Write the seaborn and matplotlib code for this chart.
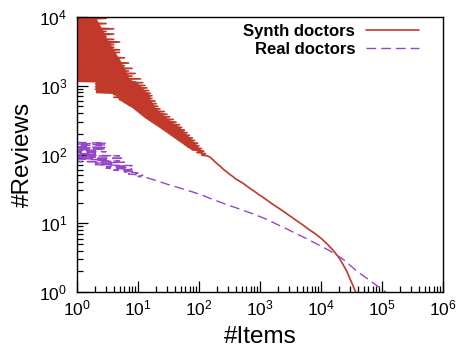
import numpy as np
import pandas as pd
import matplotlib
matplotlib.use("Agg")
import matplotlib.pyplot as plt
from matplotlib.ticker import LogLocator, NullFormatter
import seaborn as sns

# Synthetic doctors: (number of reviews, number of items with that many reviews)
synth_reviews = [
    10000, 9570, 9160, 8760, 8380, 8020, 7680, 7350, 7030, 6730,
    6440, 6160, 5900, 5640, 5400, 5170, 4940, 4730, 4530, 4330,
    4140, 3970, 3800, 3630, 3480, 3330, 3180, 3050, 2910, 2790,
    2670, 2550, 2440, 2340, 2240, 2140, 2050, 1960, 1880, 1790,
    1720, 1640, 1570, 1510, 1440, 1380, 1320, 1260, 1210,
    1160, 1110, 1060, 1010, 970, 930, 890, 850, 810, 780,
    745, 715, 680, 655, 625, 600, 572, 548, 524, 502,
    480, 460, 440, 421, 403, 385, 369, 353, 338, 323,
    309, 296, 283, 271, 259, 248, 237, 227, 217, 208,
    199, 190, 182, 174, 167, 160, 153, 146, 140, 134,
    128, 122, 117, 112, 107, 103, 98,
    95, 92, 89, 86, 83, 80, 77, 74, 71, 68,
    65, 62, 59, 56, 53, 50, 47, 44, 41, 38,
    35, 32, 30, 28, 26, 24, 22, 20, 19, 18,
    17, 16, 15, 14, 13, 12, 11, 10, 9, 8,
    7, 6, 5, 4, 3, 2, 1,
]
synth_items = [
    1, 3, 1, 2, 1, 3, 1, 2, 1, 4,
    1, 3, 1, 4, 2, 3, 1, 4, 1, 5,
    2, 4, 1, 4, 2, 5, 1, 5, 2, 4,
    1, 6, 2, 5, 1, 7, 2, 6, 1, 8,
    2, 7, 1, 9, 3, 8, 1, 11, 2,
    1, 12, 2, 13, 2, 14, 2, 15, 3, 16,
    4, 17, 4, 17, 5, 19, 6, 20, 7, 21,
    9, 23, 10, 27, 12, 30, 13, 33, 15, 38,
    17, 42, 19, 48, 22, 52, 26, 58, 30, 64,
    35, 70, 40, 78, 45, 85, 52, 95, 58, 100,
    66, 110, 78, 120, 92, 128, 110,
    140, 150, 158, 162, 172, 178, 186, 198, 205, 222,
    232, 246, 262, 285, 305, 335, 368, 400, 460, 530,
    600, 690, 770, 860, 960, 1110, 1270, 1480, 1600, 1760,
    1950, 2150, 2400, 2680, 3000, 3420, 3950, 4600, 5400, 6500,
    8100, 10100, 12600, 16000, 20500, 26500, 37000,
]

# Densely overplotted core of the synthetic curve: item range covered at each review level
synth_core_reviews = [10000, 7000, 5000, 3300, 2400, 1800, 1300, 1200, 1180, 1000,
                      790, 770, 620, 480, 340, 250, 160, 117]
synth_core_low = [1, 1, 1, 1, 1, 1, 1, 1, 2, 2,
                  2, 4, 5, 8, 13, 22, 45, 75]
synth_core_high = [2, 2.5, 3, 4, 5, 6, 7, 8, 9, 11,
                   14, 15, 16, 19, 29, 48, 78, 105]

# Real doctors
real_reviews = [
    150, 146, 142, 138, 134,
    130, 127, 124, 121, 118, 116, 113, 110, 108, 105,
    102, 100, 98, 96, 94, 92, 90, 88, 86, 84,
    82, 80, 79, 77, 75, 73, 71, 69, 67, 65,
    63, 61, 59, 57, 56, 54, 52, 50, 48, 46,
    45, 43, 41, 39, 37, 35, 33, 31, 29, 27,
    25, 23, 21, 20, 19, 18, 17, 16, 15, 14,
    13, 12, 11, 10, 9, 8, 7, 6, 5, 4,
    3, 2, 1,
]
real_items = [
    1, 3, 1, 3, 1,
    1, 3, 1, 3, 1, 2, 1, 3, 1, 2,
    1, 2, 1, 5, 1, 2, 1, 6, 1, 3,
    2, 5, 1, 6, 2, 4, 2, 8, 3, 7,
    3, 8, 4, 9, 6, 10, 7, 12, 10, 14,
    15, 18, 21, 25, 30, 37, 46, 58, 74, 95,
    121, 152, 200, 232, 270, 320, 390, 470, 575, 716,
    890, 1120, 1400, 1740, 2240, 2950, 4000, 5750, 8500, 13800,
    23000, 39000, 115000,
]

series_labels = ["Synth doctors", "Real doctors"]
x_label = "#Items"
y_label = "#Reviews"

RED = "#c0392b"
PURPLE = "#9646c8"

sns.set_style("white")
plt.rcParams["font.family"] = ["Liberation Sans", "DejaVu Sans"]
plt.rcParams["mathtext.default"] = "regular"
for key in ["text.color", "axes.labelcolor", "xtick.color", "ytick.color", "axes.edgecolor"]:
    plt.rcParams[key] = "black"

fig, ax = plt.subplots(figsize=(4.58, 3.52), dpi=100)
fig.subplots_adjust(left=77 / 458, right=443 / 458, top=1 - 17 / 352, bottom=1 - 292 / 352)

synth = pd.DataFrame({"items": synth_items, "reviews": synth_reviews})
real = pd.DataFrame({"items": real_items, "reviews": real_reviews})

ax.fill_betweenx(synth_core_reviews, synth_core_low, synth_core_high,
                 color=RED, linewidth=0, zorder=1.5)
sns.lineplot(data=synth, x="items", y="reviews", sort=False, estimator=None,
             color=RED, linewidth=1.2, ax=ax, label=series_labels[0], zorder=2)
sns.lineplot(data=real, x="items", y="reviews", sort=False, estimator=None,
             color=PURPLE, linewidth=1.0, linestyle=(0, (7, 3.6)), ax=ax,
             label=series_labels[1], zorder=2.1)

ax.set_xscale("log")
ax.set_yscale("log")
ax.set_xlim(1, 1e6)
ax.set_ylim(1, 1e4)

ax.xaxis.set_major_locator(LogLocator(base=10, numticks=10))
ax.yaxis.set_major_locator(LogLocator(base=10, numticks=10))
ax.xaxis.set_minor_locator(LogLocator(base=10, subs=range(2, 10), numticks=100))
ax.yaxis.set_minor_locator(LogLocator(base=10, subs=range(2, 10), numticks=100))
ax.xaxis.set_minor_formatter(NullFormatter())
ax.yaxis.set_minor_formatter(NullFormatter())

ax.tick_params(which="both", direction="in", top=False, right=False,
               left=True, bottom=True, color="black")
ax.tick_params(which="major", length=8, width=0.9, labelsize=12.5)
ax.tick_params(which="minor", length=4, width=0.9)
ax.tick_params(axis="y", which="major", pad=7)
ax.tick_params(axis="x", which="major", pad=5)

for side in ["left", "right", "top", "bottom"]:
    ax.spines[side].set_visible(True)
    ax.spines[side].set_color("black")
    ax.spines[side].set_linewidth(1.0)
    ax.spines[side].set_zorder(3)

ax.set_xlabel(x_label, fontsize=17.5, labelpad=5)
ax.set_ylabel(y_label, fontsize=17.5, labelpad=4)

ax.legend(loc="upper right", bbox_to_anchor=(0.935, 0.975), frameon=False,
          markerfirst=False, prop={"weight": "bold", "size": 12},
          handlelength=3.2, handletextpad=0.65, labelspacing=0.2,
          borderpad=0, borderaxespad=0)

fig.savefig("out.png", dpi=100, facecolor="white")
